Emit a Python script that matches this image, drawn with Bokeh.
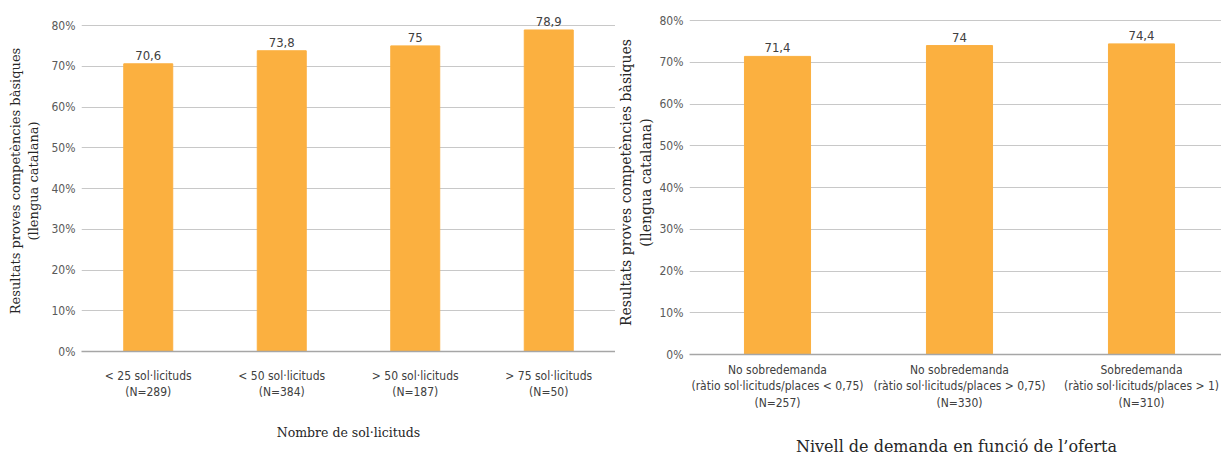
from bokeh.plotting import figure
from bokeh.layouts import row
from bokeh.models import FixedTicker, Range1d, ColumnDataSource, LabelSet
from bokeh.core.properties import value
from bokeh.embed import file_html
from bokeh.resources import INLINE

left_categories = ["< 25 sol·licituds\n(N=289)", "< 50 sol·licituds\n(N=384)",
                   "> 50 sol·licituds\n(N=187)", "> 75 sol·licituds\n(N=50)"]
left_values = [70.6, 73.8, 75, 78.9]

right_categories = ["No sobredemanda\n(ràtio sol·licituds/places < 0,75)\n(N=257)",
                    "No sobredemanda\n(ràtio sol·licituds/places > 0,75)\n(N=330)",
                    "Sobredemanda\n(ràtio sol·licituds/places > 1)\n(N=310)"]
right_values = [71.4, 74, 74.4]

y_ticks = [0, 10, 20, 30, 40, 50, 60, 70, 80]
y_title = "Resultats proves competències bàsiques\n(llengua catalana)"
left_xtitle = "Nombre de sol·licituds"
right_xtitle = "Nivell de demanda en funció de l\u2019oferta"

BAR = "#FBB040"
GRID = "#c8c8c8"
TICKFONT = "DejaVu Sans Condensed"
SERIF = "DejaVu Serif"


def make(cats, vals, xtitle, fw, fh, bl, br, bt, x0, slot, yend, bar_w,
         ytitle_size, ytitle_stand, xtitle_size, xstand, xtitle_stand):
    xs = list(range(len(cats)))
    src = ColumnDataSource(dict(x=xs, top=vals,
                                lab=[f"{v:g}".replace(".", ",") for v in vals]))
    p = figure(frame_width=fw, frame_height=fh, output_backend="svg", toolbar_location=None,
               x_range=Range1d(x0, x0 + fw / slot), y_range=Range1d(0, yend),
               min_border_left=bl, min_border_right=br, min_border_top=bt, min_border_bottom=0)
    p.outline_line_color = None
    p.vbar(x="x", top="top", width=bar_w, bottom=0, source=src, color=BAR)
    labels = LabelSet(x="x", y="top", text="lab", source=src, text_align="center",
                      text_baseline="bottom", y_offset=4, text_font=value(TICKFONT),
                      text_font_size=value("13px"), text_color="#404040")
    p.add_layout(labels)
    p.xaxis.ticker = FixedTicker(ticks=xs)
    p.xaxis.major_label_overrides = {i: c for i, c in enumerate(cats)}
    p.xaxis.major_tick_line_color = None
    p.xaxis.major_tick_out = 0
    p.xaxis.major_tick_in = 0
    p.xaxis.minor_tick_line_color = None
    p.xaxis.axis_line_color = "#a6a6a6"
    p.xaxis.axis_line_width = 1.5
    p.xaxis.major_label_text_font = TICKFONT
    p.xaxis.major_label_text_font_size = "12px"
    p.xaxis.major_label_text_color = "#404040"
    p.xaxis.major_label_standoff = xstand
    p.xaxis.axis_label = xtitle
    p.xaxis.axis_label_text_font = SERIF
    p.xaxis.axis_label_text_font_style = "normal"
    p.xaxis.axis_label_text_font_size = xtitle_size
    p.xaxis.axis_label_text_color = "#262626"
    p.xaxis.axis_label_standoff = xtitle_stand
    p.xgrid.grid_line_color = None

    p.yaxis.ticker = FixedTicker(ticks=y_ticks)
    p.yaxis.major_label_overrides = {t: f"{t}%" for t in y_ticks}
    p.yaxis.axis_line_color = None
    p.yaxis.major_tick_line_color = None
    p.yaxis.major_tick_out = 0
    p.yaxis.major_tick_in = 0
    p.yaxis.minor_tick_line_color = None
    p.yaxis.major_label_text_font = TICKFONT
    p.yaxis.major_label_text_font_size = "12px"
    p.yaxis.major_label_text_color = "#595959"
    p.yaxis.major_label_standoff = 6
    p.yaxis.axis_label = y_title
    p.yaxis.axis_label_text_font = SERIF
    p.yaxis.axis_label_text_font_style = "normal"
    p.yaxis.axis_label_text_font_size = ytitle_size
    p.yaxis.axis_label_text_color = "#262626"
    p.yaxis.axis_label_standoff = ytitle_stand
    p.ygrid.grid_line_color = GRID
    p.ygrid.grid_line_width = 1
    return p


# left: frame x 81..615, 0% at y=351, 80% at y=25 ; frame top at y=10
p1 = make(left_categories, left_values, left_xtitle, 534, 341, 81, 0, 10,
          -0.5, 133.5, 80 + 15 / (326 / 80), 0.367,
          "13px", 8, "12.5px", 17, 23)
# right: frame x 687..1221, 0% at y=354, 80% at y=20 ; frame top at y=10
p2 = make(right_categories, right_values, right_xtitle, 534, 344, 70, 0, 10,
          -0.5 + 3 / 182, 182, 80 + 10 / (334 / 80), 0.363,
          "14px", 3, "16px", 8, 24)

p = row(p1, p2)
open("out.html", "w").write(file_html(p, INLINE))
